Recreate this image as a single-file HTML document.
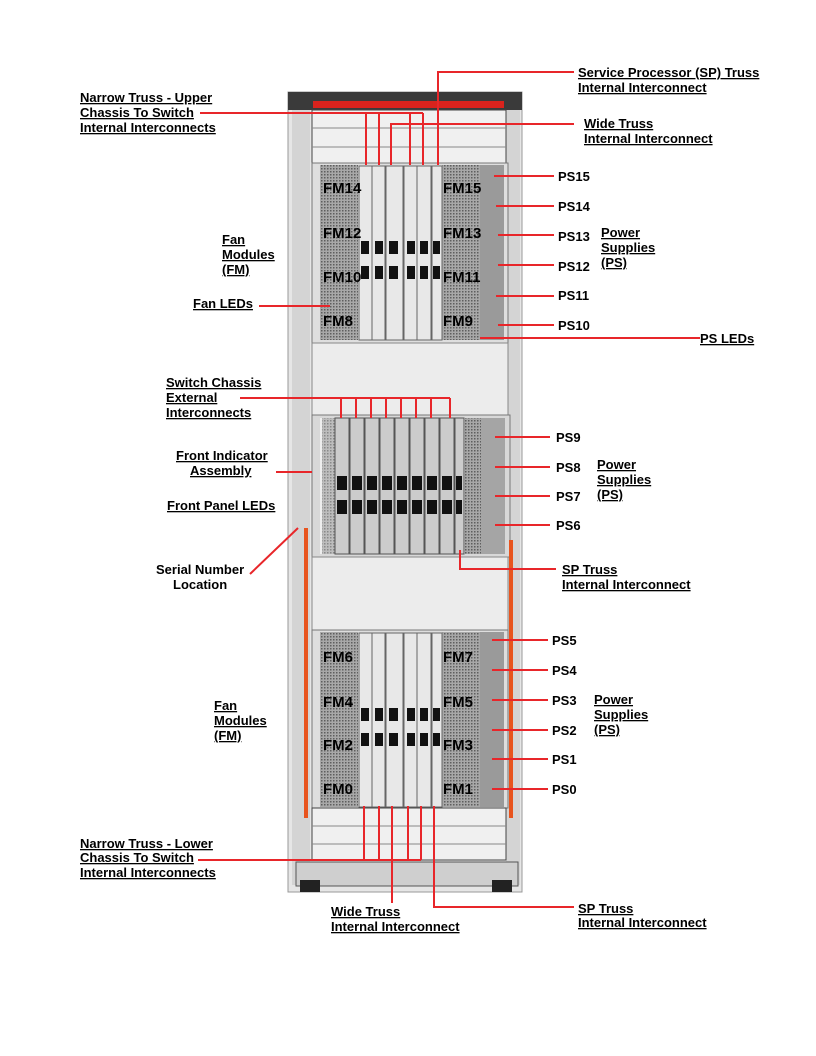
<!DOCTYPE html>
<html><head><meta charset="utf-8"><style>
body{margin:0;background:#fff}
svg{display:block}
text{font-family:"Liberation Sans",Arial,sans-serif;font-weight:bold;font-size:13px;fill:#000}
.u{text-decoration:underline}
.fm{font-size:15px}
</style></head><body>
<svg width="816" height="1056" viewBox="0 0 816 1056" xmlns="http://www.w3.org/2000/svg">
<defs>
<pattern id="g" width="3" height="3" patternUnits="userSpaceOnUse"><rect width="3" height="3" fill="#a8a8a8"/><rect width="1.5" height="1.5" fill="#5e5e5e"/></pattern>
</defs>
<rect x="288" y="92" width="234" height="800" fill="#e6e6e6" stroke="#999"/>
<rect x="292" y="95" width="18" height="790" fill="#d4d4d4"/>
<rect x="506" y="95" width="14" height="790" fill="#d4d4d4"/>
<rect x="288" y="92" width="234" height="18" fill="#3a3a3a"/>
<rect x="313" y="101" width="191" height="7" fill="#d9231d"/>
<rect x="312" y="110" width="194" height="55" fill="#f0f0f0" stroke="#444"/>
<line x1="312" y1="128" x2="506" y2="128" stroke="#888"/><line x1="312" y1="147" x2="506" y2="147" stroke="#888"/>
<rect x="312" y="163" width="196" height="180" fill="#dedede" stroke="#777"/>
<rect x="320" y="165" width="38" height="175" fill="url(#g)"/>
<rect x="442" y="165" width="38" height="175" fill="url(#g)"/>
<rect x="480" y="165" width="24" height="175" fill="#9a9a9a"/>
<g fill="#e8e8e8" stroke="#666">
<rect x="359" y="166" width="13" height="174"/><rect x="372" y="166" width="13" height="174"/><rect x="386" y="166" width="17" height="174"/><rect x="404" y="166" width="13" height="174"/><rect x="417" y="166" width="14" height="174"/><rect x="432" y="166" width="10" height="174"/>
</g>
<g fill="#111">
<rect x="361" y="241" width="8" height="13"/><rect x="375" y="241" width="8" height="13"/><rect x="389" y="241" width="9" height="13"/><rect x="407" y="241" width="8" height="13"/><rect x="420" y="241" width="8" height="13"/><rect x="433" y="241" width="7" height="13"/>
<rect x="361" y="266" width="8" height="13"/><rect x="375" y="266" width="8" height="13"/><rect x="389" y="266" width="9" height="13"/><rect x="407" y="266" width="8" height="13"/><rect x="420" y="266" width="8" height="13"/><rect x="433" y="266" width="7" height="13"/>
</g>
<rect x="312" y="343" width="196" height="72" fill="#ececec" stroke="#888"/>
<rect x="312" y="415" width="198" height="142" fill="#d8d8d8" stroke="#777"/>
<rect x="320" y="418" width="14" height="136" fill="#eee"/>
<rect x="322" y="418" width="30" height="136" fill="url(#g)" opacity=".7"/>
<rect x="465" y="418" width="16" height="136" fill="url(#g)"/>
<rect x="481" y="418" width="24" height="136" fill="#a5a5a5"/>
<g fill="#ccc" stroke="#555">
<rect x="335" y="418" width="14" height="136"/><rect x="350" y="418" width="14" height="136"/><rect x="365" y="418" width="14" height="136"/><rect x="380" y="418" width="14" height="136"/><rect x="395" y="418" width="14" height="136"/><rect x="410" y="418" width="14" height="136"/><rect x="425" y="418" width="14" height="136"/><rect x="440" y="418" width="14" height="136"/><rect x="455" y="418" width="9" height="136"/>
</g>
<g fill="#111">
<rect x="337" y="476" width="10" height="14"/><rect x="352" y="476" width="10" height="14"/><rect x="367" y="476" width="10" height="14"/><rect x="382" y="476" width="10" height="14"/><rect x="397" y="476" width="10" height="14"/><rect x="412" y="476" width="10" height="14"/><rect x="427" y="476" width="10" height="14"/><rect x="442" y="476" width="10" height="14"/><rect x="456" y="476" width="6" height="14"/>
<rect x="337" y="500" width="10" height="14"/><rect x="352" y="500" width="10" height="14"/><rect x="367" y="500" width="10" height="14"/><rect x="382" y="500" width="10" height="14"/><rect x="397" y="500" width="10" height="14"/><rect x="412" y="500" width="10" height="14"/><rect x="427" y="500" width="10" height="14"/><rect x="442" y="500" width="10" height="14"/><rect x="456" y="500" width="6" height="14"/>
</g>
<rect x="312" y="557" width="196" height="73" fill="#ececec" stroke="#888"/>
<rect x="312" y="630" width="196" height="178" fill="#dedede" stroke="#777"/>
<rect x="320" y="632" width="38" height="175" fill="url(#g)"/>
<rect x="442" y="632" width="38" height="175" fill="url(#g)"/>
<rect x="480" y="632" width="24" height="175" fill="#9a9a9a"/>
<g fill="#e8e8e8" stroke="#666">
<rect x="359" y="633" width="13" height="174"/><rect x="372" y="633" width="13" height="174"/><rect x="386" y="633" width="17" height="174"/><rect x="404" y="633" width="13" height="174"/><rect x="417" y="633" width="14" height="174"/><rect x="432" y="633" width="10" height="174"/>
</g>
<g fill="#111">
<rect x="361" y="708" width="8" height="13"/><rect x="375" y="708" width="8" height="13"/><rect x="389" y="708" width="9" height="13"/><rect x="407" y="708" width="8" height="13"/><rect x="420" y="708" width="8" height="13"/><rect x="433" y="708" width="7" height="13"/>
<rect x="361" y="733" width="8" height="13"/><rect x="375" y="733" width="8" height="13"/><rect x="389" y="733" width="9" height="13"/><rect x="407" y="733" width="8" height="13"/><rect x="420" y="733" width="8" height="13"/><rect x="433" y="733" width="7" height="13"/>
</g>
<rect x="312" y="808" width="194" height="52" fill="#f0f0f0" stroke="#444"/>
<line x1="312" y1="826" x2="506" y2="826" stroke="#888"/><line x1="312" y1="844" x2="506" y2="844" stroke="#888"/>
<rect x="296" y="862" width="222" height="24" fill="#cfcfcf" stroke="#555"/>
<rect x="300" y="880" width="20" height="12" fill="#222"/><rect x="492" y="880" width="20" height="12" fill="#222"/>
<rect x="304" y="528" width="4" height="290" fill="#e8541e"/>
<rect x="509" y="540" width="4" height="278" fill="#e8541e"/>

<g class="fm"><text x="323" y="193" class="fm">FM14</text><text x="443" y="193" class="fm">FM15</text>
<text x="323" y="238" class="fm">FM12</text><text x="443" y="238" class="fm">FM13</text>
<text x="323" y="282" class="fm">FM10</text><text x="443" y="282" class="fm">FM11</text>
<text x="323" y="326" class="fm">FM8</text><text x="443" y="326" class="fm">FM9</text>
<text x="323" y="662" class="fm">FM6</text><text x="443" y="662" class="fm">FM7</text>
<text x="323" y="707" class="fm">FM4</text><text x="443" y="707" class="fm">FM5</text>
<text x="323" y="750" class="fm">FM2</text><text x="443" y="750" class="fm">FM3</text>
<text x="323" y="794" class="fm">FM0</text><text x="443" y="794" class="fm">FM1</text></g>

<g stroke="#e8262a" stroke-width="2" fill="none">
<path d="M200 113 H423 M366 113 V165 M379 113 V165 M410 113 V165 M423 113 V165"/>
<path d="M391 165 V124 H574"/>
<path d="M438 165 V72 H574"/>
<path d="M259 306 H330"/>
<path d="M494 176 H554 M496 206 H554 M498 235 H554 M498 265 H554 M496 296 H554 M498 325 H554 M480 338 H700"/>
<path d="M240 398 H450 M341 398 V418 M356 398 V418 M371 398 V418 M386 398 V418 M401 398 V418 M416 398 V418 M431 398 V418 M450 398 V418"/>
<path d="M276 472 H312"/>
<path d="M250 574 L298 528"/>
<path d="M495 437 H550 M495 467 H550 M495 496 H550 M495 525 H550"/>
<path d="M460 550 V569 H556"/>
<path d="M492 640 H548 M492 670 H548 M492 700 H548 M492 730 H548 M492 759 H548 M492 789 H548"/>
<path d="M198 860 H421 M364 806 V860 M379 806 V860 M408 806 V860 M421 806 V860"/>
<path d="M392 806 V903"/>
<path d="M434 806 V907 H574"/>
</g>

<text x="80" y="102" class="u">Narrow Truss - Upper</text>
<text x="80" y="117" class="u">Chassis To Switch</text>
<text x="80" y="132" class="u">Internal Interconnects</text>
<text x="578" y="77" class="u">Service Processor (SP) Truss</text>
<text x="578" y="92" class="u">Internal Interconnect</text>
<text x="584" y="128" class="u">Wide Truss</text>
<text x="584" y="143" class="u">Internal Interconnect</text>
<text x="222" y="244" class="u">Fan</text><text x="222" y="259" class="u">Modules</text><text x="222" y="274" class="u">(FM)</text>
<text x="193" y="308" class="u">Fan LEDs</text>
<text x="558" y="181">PS15</text><text x="558" y="211">PS14</text><text x="558" y="241">PS13</text><text x="558" y="271">PS12</text><text x="558" y="300">PS11</text><text x="558" y="330">PS10</text>
<text x="601" y="237" class="u">Power</text><text x="601" y="252" class="u">Supplies</text><text x="601" y="267" class="u">(PS)</text>
<text x="700" y="343" class="u">PS LEDs</text>
<text x="166" y="387" class="u">Switch Chassis</text><text x="166" y="402" class="u">External</text><text x="166" y="417" class="u">Interconnects</text>
<text x="176" y="460" class="u">Front Indicator</text><text x="190" y="475" class="u">Assembly</text>
<text x="167" y="510" class="u">Front Panel LEDs</text>
<text x="156" y="574">Serial Number</text><text x="173" y="589">Location</text>
<text x="556" y="442">PS9</text><text x="556" y="472">PS8</text><text x="556" y="501">PS7</text><text x="556" y="530">PS6</text>
<text x="597" y="469" class="u">Power</text><text x="597" y="484" class="u">Supplies</text><text x="597" y="499" class="u">(PS)</text>
<text x="562" y="574" class="u">SP Truss</text><text x="562" y="589" class="u">Internal Interconnect</text>
<text x="552" y="645">PS5</text><text x="552" y="675">PS4</text><text x="552" y="705">PS3</text><text x="552" y="735">PS2</text><text x="552" y="764">PS1</text><text x="552" y="794">PS0</text>
<text x="594" y="704" class="u">Power</text><text x="594" y="719" class="u">Supplies</text><text x="594" y="734" class="u">(PS)</text>
<text x="214" y="710" class="u">Fan</text><text x="214" y="725" class="u">Modules</text><text x="214" y="740" class="u">(FM)</text>
<text x="80" y="848" class="u">Narrow Truss - Lower</text><text x="80" y="862" class="u">Chassis To Switch</text><text x="80" y="877" class="u">Internal Interconnects</text>
<text x="331" y="916" class="u">Wide Truss</text><text x="331" y="931" class="u">Internal Interconnect</text>
<text x="578" y="913" class="u">SP Truss</text><text x="578" y="927" class="u">Internal Interconnect</text>
</svg>
</body></html>
